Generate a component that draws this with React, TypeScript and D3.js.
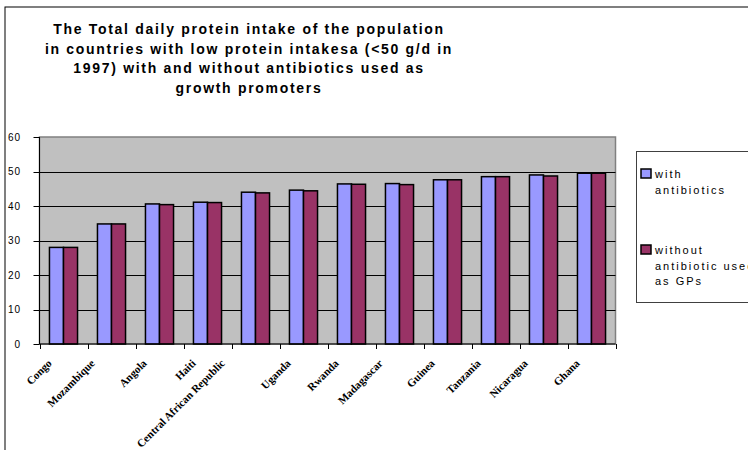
import React from 'react';
import * as d3 from 'd3';

const categories = [
  'Congo', 'Mozambique', 'Angola', 'Haiti', 'Central African Republic', 'Uganda',
  'Rwanda', 'Madagascar', 'Guinea', 'Tanzania', 'Nicaragua', 'Ghana'
];
const withAntibiotics = [28.0, 34.8, 40.6, 41.1, 44.0, 44.6, 46.4, 46.5, 47.6, 48.5, 49.0, 49.5];
const withoutAntibiotics = [28.0, 34.8, 40.4, 41.0, 43.8, 44.4, 46.3, 46.2, 47.6, 48.5, 48.7, 49.5];
const yTicks = [0, 10, 20, 30, 40, 50, 60];
const titleLines = [
  'The Total daily protein intake of the population',
  'in countries with low protein intakesa (<50 g/d in',
  '1997) with and without antibiotics used as',
  'growth promoters'
];
const seriesNames = ['with', 'without'];
const legendLabels = [['with', 'antibiotics'], ['without', 'antibiotic used', 'as GPs']];
const seriesColors = ['#9999FF', '#993366'];

const W = 748;
const H = 450;
const plot = { left: 39.5, right: 615.5, top: 137, bottom: 344 };

const App: React.FC = () => {
  const x0 = d3.scaleBand<string>().domain(categories).range([plot.left, plot.right]);
  const groupW = x0.bandwidth() * 0.585;
  const x1 = d3.scaleBand<string>().domain(seriesNames).range([0, groupW]);
  const y = d3.scaleLinear().domain([0, 60]).range([plot.bottom, plot.top]);
  const series = [withAntibiotics, withoutAntibiotics];

  return (
    <div style={{ position: 'absolute', left: 0, top: 0 }}>
      <svg width={W} height={H} style={{ display: 'block', background: '#fff' }}>
        {/* outer chart frame */}
        <rect x={5} y={7} width={W + 20} height={H + 20} fill="#fff" stroke="#000" strokeWidth={1} />

        {/* title */}
        <g fontFamily="Arial, 'Liberation Sans', sans-serif" fontWeight="bold" fontSize={14}
          letterSpacing={1.7} fill="#000" textAnchor="middle">
          {titleLines.map((t, i) => (
            <text key={i} x={249} y={34 + i * 19.5}>{t}</text>
          ))}
        </g>

        {/* plot area */}
        <rect x={plot.left} y={plot.top} width={plot.right - plot.left} height={plot.bottom - plot.top}
          fill="#C0C0C0" stroke="#808080" strokeWidth={1.5} />
        {yTicks.filter(t => t > 0 && t < 60).map(t => (
          <line key={t} x1={plot.left} x2={plot.right} y1={Math.round(y(t)) + 0.5} y2={Math.round(y(t)) + 0.5}
            stroke="#000" strokeWidth={1} />
        ))}

        {/* bars */}
        {categories.map((c, i) => {
          const gx = (x0(c) as number) + (x0.bandwidth() - groupW) / 2;
          return (
            <g key={c}>
              {series.map((s, j) => (
                <rect key={j} x={gx + (x1(seriesNames[j]) as number)} y={y(s[i])}
                  width={x1.bandwidth()} height={y(0) - y(s[i])}
                  fill={seriesColors[j]} stroke="#000" strokeWidth={1.5} />
              ))}
            </g>
          );
        })}

        {/* axes */}
        <line x1={plot.left} x2={plot.left} y1={plot.top} y2={plot.bottom} stroke="#000" strokeWidth={1} />
        <line x1={plot.left} x2={plot.right} y1={plot.bottom} y2={plot.bottom} stroke="#000" strokeWidth={1} />
        {yTicks.map(t => (
          <g key={t}>
            <line x1={plot.left - 6} x2={plot.left} y1={Math.round(y(t)) + 0.5} y2={Math.round(y(t)) + 0.5}
              stroke="#000" />
            <text x={21} y={y(t) + 3.5} textAnchor="end" fontFamily="Arial, 'Liberation Sans', sans-serif"
              fontSize={10} letterSpacing={1}>{t}</text>
          </g>
        ))}
        {d3.range(categories.length + 1).map(k => {
          const xx = Math.round(plot.left + k * x0.step()) + 0.5;
          return <line key={k} x1={xx} x2={xx} y1={plot.bottom} y2={plot.bottom + 5} stroke="#000" />;
        })}
        {categories.map(c => {
          const cx = (x0(c) as number) + x0.bandwidth() / 2 - (6 + c.length);
          const cy = 364;
          return (
            <text key={c} x={cx} y={cy} transform={`rotate(-45 ${cx} ${cy})`} textAnchor="end"
              fontFamily="'Times New Roman', 'Liberation Serif', serif" fontWeight="bold" fontSize={11}>
              {c}
            </text>
          );
        })}

        {/* legend */}
        <rect x={636.5} y={151.5} width={150} height={151} fill="#fff" stroke="#404040" strokeWidth={1} />
        {legendLabels.map((lines, i) => {
          const top = 169 + i * 76;
          return (
            <g key={i}>
              <rect x={641} y={top} width={10} height={9} fill={seriesColors[i]} stroke="#000" strokeWidth={1.5} />
              {lines.map((l, k) => (
                <text key={k} x={655} y={top + 9 + k * 15.5} fontFamily="Arial, 'Liberation Sans', sans-serif"
                  fontSize={11} letterSpacing={2}>{l}</text>
              ))}
            </g>
          );
        })}
      </svg>
    </div>
  );
};

export default App;
